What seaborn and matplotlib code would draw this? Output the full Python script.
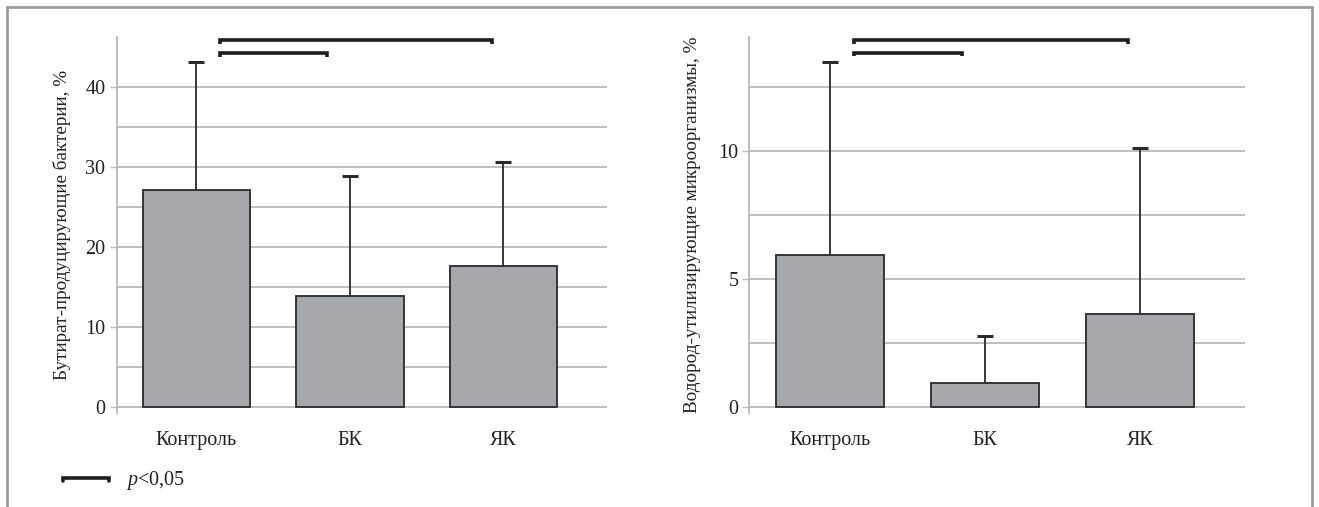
import matplotlib
matplotlib.use("Agg")
import matplotlib.pyplot as plt
import seaborn as sns
import numpy as np
from matplotlib.lines import Line2D

# ---- data ----
categories = ["Контроль", "БК", "ЯК"]
butyrate_mean = [27.1, 13.9, 17.6]
butyrate_sd = [16.0, 15.0, 13.05]
hydrogen_mean = [5.93, 0.95, 3.62]
hydrogen_sd = [7.55, 1.83, 6.5]
ylabel_left = "Бутират-продуцирующие бактерии, %"
ylabel_right = "Водород-утилизирующие микроорганизмы, %"
left_major = [0, 10, 20, 30, 40]
left_minor = [5, 15, 25, 35]
right_major = [0, 5, 10]
right_minor = [2.5, 7.5, 12.5]
# significance brackets: (x_start, x_end) in category units
brackets = [(0.155, 1.925), (0.155, 0.85)]

sns.set_theme(style="white")
plt.rcParams["font.family"] = ["Liberation Serif", "DejaVu Serif"]
plt.rcParams["mathtext.fontset"] = "custom"
plt.rcParams["mathtext.rm"] = "Liberation Serif"
plt.rcParams["mathtext.it"] = "Liberation Serif:italic"

W, H = 1319, 507
fig = plt.figure(figsize=(W / 100, H / 100), dpi=100)

BAR_COLOR = "#a7a8ab"
EDGE = "#2a2a2a"
GRID = "#b9b9b9"
FS = 14.5
FS_LABEL = 13.8


def px_axes(x0, x1, y_top, y_bot):
    return [x0 / W, 1 - y_bot / H, (x1 - x0) / W, (y_bot - y_top) / H]


def draw(ax, means, sds, major, minor, ylim, ylabel, br_y, br_tick, label_x):
    sns.barplot(x=categories, y=means, ax=ax, color=BAR_COLOR, width=0.70,
                edgecolor=EDGE, linewidth=1.3, saturation=1, errorbar=None, zorder=3)
    xs = np.arange(len(categories))
    eb = ax.errorbar(xs, means, yerr=[np.zeros(len(sds)), sds], fmt="none",
                     ecolor=EDGE, elinewidth=1.3, capsize=5.5, capthick=2.2, zorder=4)
    # only the upper cap is drawn in the reference
    eb[1][0].set_visible(False)
    ax.set_xlim(-0.52, 2.675)
    ax.set_ylim(*ylim)
    ax.set_yticks(major)
    ax.set_yticklabels([str(v) for v in major], fontsize=FS, color="#222222")
    ax.set_yticks(minor, minor=True)
    ax.yaxis.grid(True, which="both", color=GRID, linewidth=1.3, zorder=0)
    ax.set_axisbelow(True)
    ax.tick_params(axis="y", which="major", length=5, width=1, color=GRID,
                   left=True, pad=3)
    ax.tick_params(axis="y", which="minor", length=0)
    ax.tick_params(axis="x", length=0, pad=13, labelsize=FS, labelcolor="#222222")
    for s in ["top", "right", "bottom"]:
        ax.spines[s].set_visible(False)
    ax.spines["left"].set_color(GRID)
    ax.spines["left"].set_linewidth(1.3)
    ax.set_xlabel("")
    ax.set_ylabel(ylabel, fontsize=FS_LABEL, color="#222222")
    ax.yaxis.set_label_coords(label_x, 0.5)
    for (xa, xb), yv in zip(brackets, br_y):
        ax.plot([xa, xa, xb, xb], [yv - br_tick, yv, yv, yv - br_tick],
                color="#1e1e1e", linewidth=2.6, solid_capstyle="butt",
                solid_joinstyle="miter", clip_on=False, zorder=5)


ax1 = fig.add_axes(px_axes(116.6, 607, 37, 413))
draw(ax1, butyrate_mean, butyrate_sd, left_major, left_minor, (-0.75, 46.25),
     ylabel_left, [45.85, 44.25], 0.45, -0.093)

ax2 = fig.add_axes(px_axes(749.4, 1244.5, 37, 413))
draw(ax2, hydrogen_mean, hydrogen_sd, right_major, right_minor, (-0.234, 14.45),
     ylabel_right, [14.33, 13.83], 0.14, -0.098)

# outer frame
fc = "#9c9c9c"
for xs_, ys_ in [([7, 7], [507, 7]), ([7, 1312], [7, 7]), ([1312, 1312], [7, 507])]:
    fig.add_artist(Line2D([x / W for x in xs_], [1 - y / H for y in ys_],
                          color=fc, linewidth=2.0, transform=fig.transFigure))

# legend for significance bracket
lx0, lx1, ly = 63 / W, 109 / W, 1 - 478 / H
tick = 3 / H
fig.add_artist(Line2D([lx0, lx0, lx1, lx1], [ly - tick, ly, ly, ly - tick],
                      color="#1e1e1e", linewidth=2.6, transform=fig.transFigure,
                      solid_joinstyle="miter"))
fig.text(126 / W, 1 - 481 / H, r"$\it{p}$<0,05", fontsize=FS, va="center",
         ha="left", color="#222222")

fig.savefig("out.png", dpi=100)
